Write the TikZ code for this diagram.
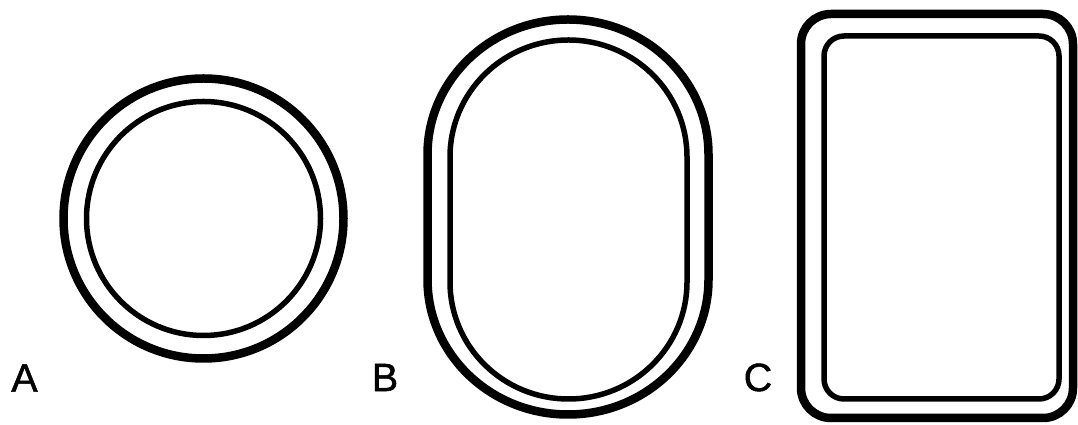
\documentclass[tikz,border=0pt]{standalone}
\usepackage{fontspec}
\setmainfont{Liberation Sans}
\newfontfamily\lblfont[FakeBold=1.2]{Liberation Sans}
\usepackage{tikz}
\usetikzlibrary{positioning}

\begin{document}
\begin{tikzpicture}[
	x=1pt, y=1pt,
	outerring/.style={draw, line width=8.5pt},
	innerring/.style={draw, line width=5.5pt},
	lbl/.style={inner sep=0pt, font=\lblfont\fontsize{39.5}{39.5}\selectfont}
]
\useasboundingbox (0,0) rectangle (1078,425);

% A: round
\draw[outerring] (203.5,206.5) circle[radius=140];
\draw[innerring] (203.5,206.5) circle[radius=117];

% B: oval
\draw[outerring] (427.5,145.5) -- (427.5,270.5)
	arc[start angle=180, end angle=0, x radius=140.5, y radius=135]
	-- (708.5,145.5)
	arc[start angle=0, end angle=-180, x radius=140.5, y radius=135] -- cycle;
\draw[innerring] (450,143) -- (450,268)
	arc[start angle=180, end angle=0, x radius=118.5, y radius=117]
	-- (687,143)
	arc[start angle=0, end angle=-180, x radius=118.5, y radius=117] -- cycle;

% C: rectangle
\draw[outerring, rounded corners=30pt] (801,7) rectangle (1073,411);
\draw[innerring, rounded corners=20pt] (824,26) rectangle (1059,389);

% Labels
\node[lbl] (labA) at (24.5,47) {A};
\node[lbl] (labB) at (385,47.5) {B};
\node[lbl] (labC) at (758,47.5) {C};

\end{tikzpicture}
\end{document}
